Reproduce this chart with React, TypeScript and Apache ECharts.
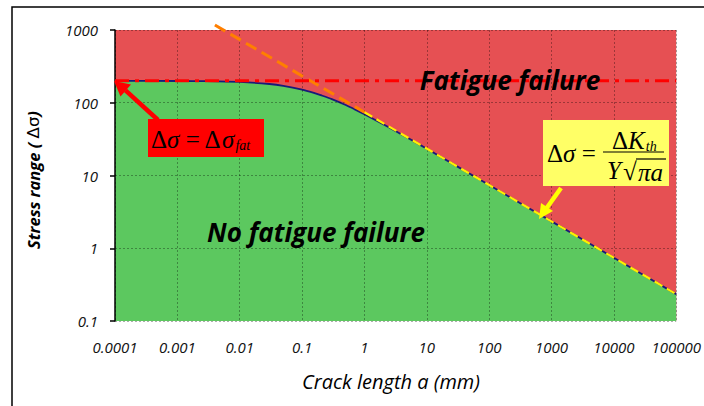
import React, { useEffect, useRef } from "react";
import * as echarts from "echarts";

// Crack length a (mm) and threshold stress range
const crackLength = [0.0001, 0.001, 0.003, 0.01, 0.03, 0.05, 0.1, 0.15, 0.2, 0.3, 0.5, 0.7, 1, 2, 3, 5, 10, 100, 1000, 10000, 100000];
const thresholdStress = [200, 199, 198, 193, 181, 171, 152, 138, 127, 112, 93, 81, 69.4, 50.6, 41.8, 32.7, 23.3, 7.4, 2.34, 0.74, 0.234];

// Fatigue limit line (Δσ_fat)
const fatigueA = [0.0001, 100000];
const fatigueS = [200, 200];

// LEFM asymptote ΔK_th / (Y sqrt(π a))
const lefmUpperA = [0.004, 1];
const lefmUpperS = [1170, 74];
const lefmLowerA = [1, 100000];
const lefmLowerS = [74, 0.234];

const xTickLabels = ["0.0001", "0.001", "0.01", "0.1", "1", "10", "100", "1000", "10000", "100000"];
const yTickLabels = ["0.1", "1", "10", "100", "1000"];

const zip = (a: number[], b: number[]) => a.map((v, i) => [v, b[i]]);

export default function App() {
  const ref = useRef<HTMLDivElement>(null);
  useEffect(() => {
    const chart = echarts.init(ref.current!, null, { renderer: "svg" });
    const RED = "#E65053";
    const GREEN = "#5CC85F";
    const gridLine = { show: true, lineStyle: { color: "rgba(0,0,0,0.32)", type: [2, 2] as any, width: 1 } };
    const serif = "'Liberation Serif', 'Times New Roman', serif";
    const sans = "'Open Sans'";
    const mathRich = {
      u: { font: `25px ${serif}`, fill: "#000" },
      i: { font: `italic 25px ${serif}`, fill: "#000" },
      s: { font: `italic 14px ${serif}`, fill: "#000", padding: [12, 0, 0, 1] },
    };
    const bigLabel = (text: string, x: number, y: number) => ({
      type: "text",
      z: 100,
      x,
      y,
      style: {
        text,
        font: `italic bold 26px ${sans}`,
        fill: "#000",
        align: "center",
        verticalAlign: "middle",
        textShadowColor: "rgba(255,255,255,0.85)",
        textShadowOffsetX: 2,
        textShadowOffsetY: 2,
        textShadowBlur: 0,
      },
    });
    chart.setOption({
      animation: false,
      backgroundColor: "#fff",
      grid: { left: 115, top: 30, right: 26, bottom: 85, show: true, backgroundColor: RED, borderWidth: 0 },
      xAxis: {
        type: "log",
        logBase: 10,
        min: 0.0001,
        max: 100000,
        z: 10,
        axisLine: { show: false },
        axisTick: { show: false },
        splitLine: gridLine,
        axisLabel: {
          margin: 18,
          fontFamily: "Open Sans",
          fontStyle: "italic",
          fontSize: 15,
          color: "#111",
          formatter: (v: number) => xTickLabels[Math.round(Math.log10(v)) + 4] ?? "",
        },
      },
      yAxis: {
        type: "log",
        logBase: 10,
        min: 0.1,
        max: 1000,
        z: 10,
        axisLine: { show: true, lineStyle: { color: "#000", width: 1.5 } },
        axisTick: { show: true, length: 5, lineStyle: { color: "#000", width: 1.5 } },
        splitLine: gridLine,
        axisLabel: {
          margin: 17,
          fontFamily: "Open Sans",
          fontStyle: "italic",
          fontSize: 15,
          color: "#111",
          formatter: (v: number) => yTickLabels[Math.round(Math.log10(v)) + 1] ?? "",
        },
      },
      series: [
        {
          type: "line",
          data: zip(crackLength, thresholdStress),
          smooth: 0.3,
          symbol: "none",
          z: 2,
          lineStyle: { color: "#1a1a7a", width: 1.8 },
          areaStyle: { color: GREEN, opacity: 1, origin: "start" },
        },
        {
          type: "line",
          data: zip(lefmLowerA, lefmLowerS),
          symbol: "none",
          z: 12,
          lineStyle: { color: "#FFF000", width: 2.2, type: [9, 5] as any },
        },
        {
          type: "line",
          data: zip(lefmUpperA, lefmUpperS),
          symbol: "none",
          clip: false,
          z: 12,
          lineStyle: { color: "#FF7F00", width: 3, type: [12, 6] as any },
        },
        {
          type: "line",
          data: zip(fatigueA, fatigueS),
          symbol: "none",
          z: 12,
          lineStyle: { color: "#FF0000", width: 3, type: [14, 6, 4, 6] as any },
        },
      ],
      graphic: [
        {
          type: "rect",
          z: 100,
          shape: { x: 12, y: 7, width: 720, height: 430 },
          style: { fill: "none", stroke: "#000", lineWidth: 1.5 },
          silent: true,
        },
        bigLabel("Fatigue failure", 510, 80),
        bigLabel("No fatigue failure", 316, 232),
        // red box
        {
          type: "rect",
          z: 100,
          shape: { x: 148, y: 119, width: 116, height: 38 },
          style: { fill: "#FF0000" },
        },
        {
          type: "text",
          z: 101,
          x: 151,
          y: 139,
          style: {
            text: "{u|Δ}{i|σ}{u| = Δ}{i|σ}{s|fat}",
            align: "left",
            verticalAlign: "middle",
            rich: mathRich,
          },
        },
        // red arrow
        {
          type: "line",
          z: 101,
          shape: { x1: 158, y1: 120, x2: 125.5, y2: 90.3 },
          style: { stroke: "#FF0000", lineWidth: 4.5 },
        },
        {
          type: "polygon",
          z: 101,
          shape: { points: [[114, 81], [131, 84.5], [120.5, 96.5]] },
          style: { fill: "#FF0000" },
        },
        // yellow box
        {
          type: "rect",
          z: 100,
          shape: { x: 543, y: 120, width: 126, height: 66 },
          style: { fill: "#FFFF66" },
        },
        {
          type: "text",
          z: 101,
          x: 547,
          y: 153,
          style: { text: "{u|Δ}{i|σ}{u| =}", align: "left", verticalAlign: "middle", rich: mathRich },
        },
        {
          type: "line",
          z: 101,
          shape: { x1: 603, y1: 152, x2: 664, y2: 152 },
          style: { stroke: "#000", lineWidth: 1.2 },
        },
        {
          type: "text",
          z: 101,
          x: 612,
          y: 140,
          style: { text: "{u|Δ}{i|K}{s|th}", align: "left", verticalAlign: "middle", rich: mathRich },
        },
        {
          type: "text",
          z: 101,
          x: 607,
          y: 170,
          style: { text: "Y", font: `italic 25px ${serif}`, fill: "#000", align: "left", verticalAlign: "middle" },
        },
        {
          type: "text",
          z: 101,
          x: 623,
          y: 171,
          style: { text: "√", font: `25px ${serif}`, fill: "#000", align: "left", verticalAlign: "middle" },
        },
        {
          type: "line",
          z: 101,
          shape: { x1: 636, y1: 159, x2: 666, y2: 159 },
          style: { stroke: "#000", lineWidth: 1.2 },
        },
        {
          type: "text",
          z: 101,
          x: 638,
          y: 172,
          style: { text: "πa", font: `italic 25px ${serif}`, fill: "#000", align: "left", verticalAlign: "middle" },
        },
        // yellow arrow
        {
          type: "line",
          z: 101,
          shape: { x1: 561, y1: 188, x2: 546.7, y2: 208 },
          style: { stroke: "#FFFF00", lineWidth: 4.5 },
        },
        {
          type: "polygon",
          z: 101,
          shape: { points: [[539, 219], [553, 211], [541, 203]] },
          style: { fill: "#FFFF00" },
        },
        // axis titles
        {
          type: "text",
          z: 100,
          x: 33,
          y: 180,
          rotation: Math.PI / 2,
          style: {
            text: "{b|Stress range ( }{n|Δσ}{b|)}",
            align: "center",
            verticalAlign: "middle",
            rich: {
              b: { font: `italic bold 16.5px ${sans}`, fill: "#000" },
              n: { font: "16.5px 'DejaVu Sans'", fill: "#000" },
            },
          },
        },
        {
          type: "text",
          z: 100,
          x: 391,
          y: 381,
          style: { text: "Crack length a (mm)", font: `italic 20px ${sans}`, fill: "#000", align: "center", verticalAlign: "middle" },
        },
      ],
    });
    return () => chart.dispose();
  }, []);
  return <div ref={ref} style={{ width: 704, height: 406, position: "absolute", left: 0, top: 0 }} />;
}
